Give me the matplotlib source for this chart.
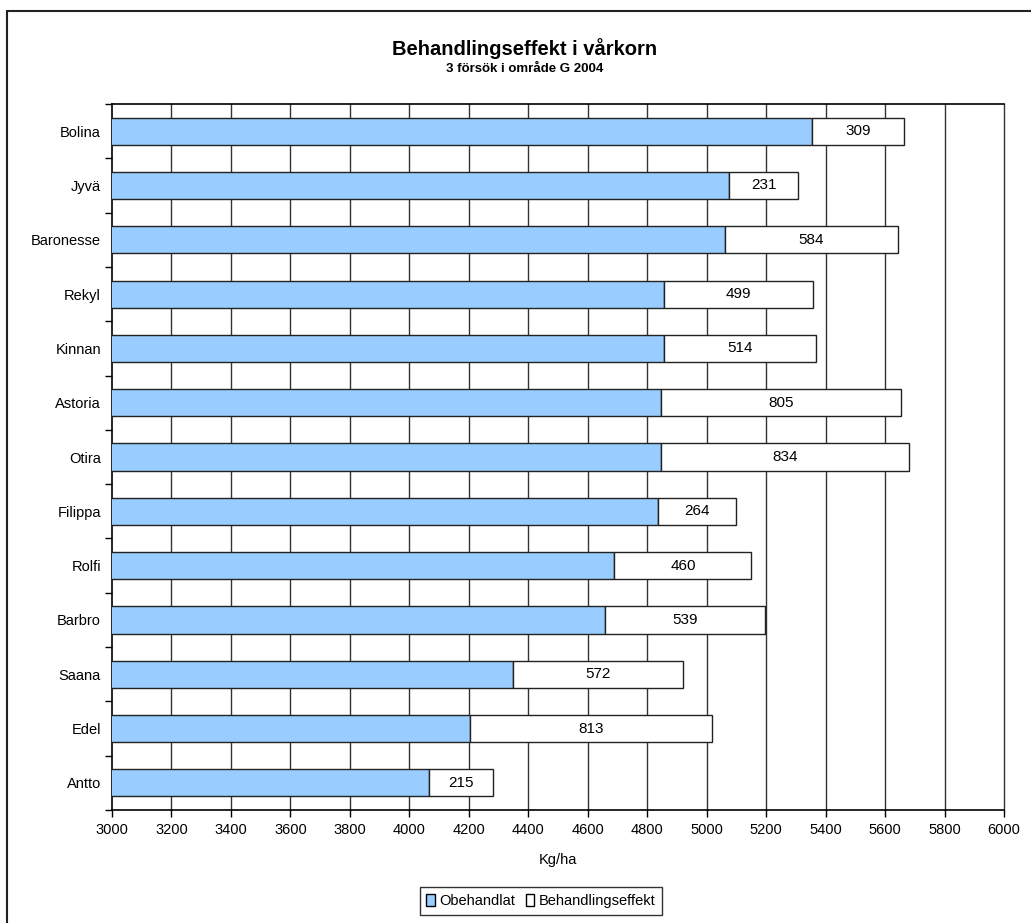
import matplotlib
matplotlib.use("Agg")
import matplotlib.pyplot as plt
from matplotlib.patches import Rectangle, Patch

plt.rcParams['font.family'] = ['Liberation Sans', 'DejaVu Sans']

sorter = ["Bolina", "Jyvä", "Baronesse", "Rekyl", "Kinnan", "Astoria", "Otira",
          "Filippa", "Rolfi", "Barbro", "Saana", "Edel", "Antto"]
obehandlat = [5355, 5076, 5060, 4858, 4855, 4848, 4848, 4835, 4690, 4658, 4348, 4204, 4066]
effekt = [309, 231, 584, 499, 514, 805, 834, 264, 460, 539, 572, 813, 215]
xticks = list(range(3000, 6001, 200))

W, H = 1031, 923
fig = plt.figure(figsize=(W / 100, H / 100), dpi=100)
# outer frame
fig.patches.append(Rectangle((7 / W, -0.05), 1.1, 1 - 11 / H + 0.05, transform=fig.transFigure,
                             fill=False, edgecolor='#222222', linewidth=1.5))

ax = fig.add_axes([112 / W, 1 - 810 / H, (1004 - 112) / W, (810 - 104) / H])
y = list(range(len(sorter)))
ax.barh(y, obehandlat, left=0, height=0.5, color='#99CCFF', edgecolor='#222222', linewidth=1.0,
        label='Obehandlat', zorder=3)
ax.barh(y, effekt, left=obehandlat, height=0.5, color='white', edgecolor='#222222', linewidth=1.0,
        label='Behandlingseffekt', zorder=3)
for yi, o, e in zip(y, obehandlat, effekt):
    ax.text(o + e / 2, yi, str(e), ha='center', va='center', fontsize=11, zorder=4)

ax.set_xlim(3000, 6000)
ax.set_ylim(len(sorter) - 0.5, -0.5)
ax.set_xticks(xticks)
ax.set_xticklabels([str(t) for t in xticks], fontsize=10.5)
ax.set_yticks(y)
ax.set_yticklabels(sorter, fontsize=10.5)
ax.tick_params(axis='y', length=0, pad=8)
ax.set_yticks([i - 0.5 for i in range(len(sorter) + 1)], minor=True)
ax.tick_params(axis='y', which='minor', length=5, direction='out', width=1)
ax.tick_params(axis='x', length=5, direction='out', width=1, pad=4)
for xt in xticks[1:]:
    ax.axvline(xt, color='#333333', linewidth=1.0, zorder=1, clip_on=False)
for s in ['top', 'left', 'bottom']:
    ax.spines[s].set_linewidth(1.2)
    ax.spines[s].set_color('black')
ax.spines['right'].set_visible(False)

ax.set_xlabel('Kg/ha', fontsize=10.5, labelpad=12)

fig.text(525 / W, 1 - 55 / H, 'Behandlingseffekt i vårkorn', ha='center', va='baseline',
         fontsize=14.5, fontweight='bold')
fig.text(525 / W, 1 - 71.5 / H, '3 försök i område G 2004', ha='center', va='baseline',
         fontsize=9.5, fontweight='bold')

handles = [Patch(facecolor='#99CCFF', edgecolor='black', linewidth=1.0, label='Obehandlat'),
           Patch(facecolor='white', edgecolor='black', linewidth=1.0, label='Behandlingseffekt')]
leg = fig.legend(handles=handles, loc='center', bbox_to_anchor=(541 / W, 1 - 901 / H), ncol=2,
                 fontsize=10.5, frameon=True, fancybox=False, handlelength=0.6, handleheight=0.8,
                 handletextpad=0.3, columnspacing=0.7, borderpad=0.45, borderaxespad=0)
leg.get_frame().set_edgecolor('black')
leg.get_frame().set_linewidth(1.0)

fig.savefig('out.png', dpi=100)
